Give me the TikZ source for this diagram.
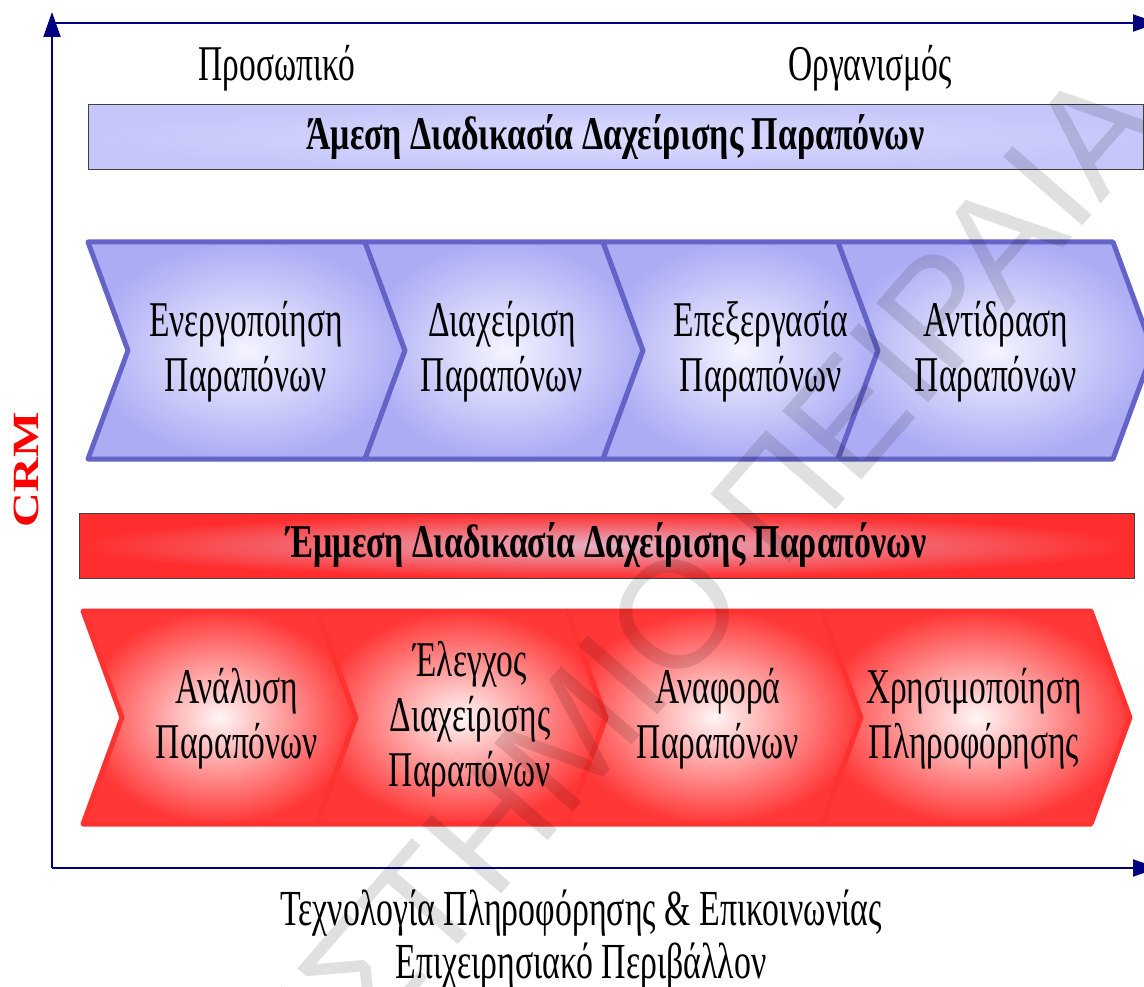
\documentclass[tikz,border=0pt]{standalone}
\usepackage{fontspec}
\setmainfont{Liberation Serif}[FakeStretch=0.67]
\newfontfamily\headfont{Liberation Serif}[FakeStretch=0.72]
\newfontfamily\crmfont{Liberation Serif}[FakeStretch=1.3]
\newfontfamily\wmfont{Liberation Sans}
\usetikzlibrary{arrows.meta}
\definecolor{navy}{RGB}{0,0,128}
\definecolor{chevblue}{RGB}{100,100,200}
\definecolor{fillblue}{RGB}{172,172,245}
\definecolor{paleblue}{RGB}{244,244,255}
\definecolor{barblue}{RGB}{198,198,250}
\definecolor{barblueinner}{RGB}{220,220,255}
\definecolor{chevred}{RGB}{255,50,50}
\definecolor{fillred}{RGB}{255,55,55}
\definecolor{palered}{RGB}{255,246,246}
\definecolor{barred}{RGB}{255,45,45}
\definecolor{barredinner}{RGB}{228,178,198}
\newcommand{\chevsize}{\fontsize{50}{55}\selectfont}
\tikzset{
    axis/.style = {draw=navy, line width=2pt, -{Triangle[length=25pt,width=17pt]}},
    headbar/.style = {rectangle, draw=black!75, line width=1pt, shade,
        minimum width=1055pt, minimum height=65pt, inner sep=0pt,
        font=\headfont\fontsize{47}{50}\selectfont\bfseries},
    bluebar/.style = {headbar, inner color=barblueinner, outer color=barblue},
    redbar/.style = {headbar, inner color=barredinner, outer color=barred},
    bluechev/.style = {draw=chevblue, line width=5pt, line join=round, shade,
        inner color=paleblue, outer color=fillblue},
    redchev/.style = {draw=chevred, line width=5pt, line join=round, shade,
        inner color=palered, outer color=fillred},
    chevtext/.style = {align=center, inner sep=0pt, font=\chevsize},
    label/.style = {inner sep=0pt, font=\fontsize{50}{55}\selectfont}}
\begin{document}
\begin{tikzpicture}[x=1pt,y=-1pt]
    \clip (0,0) rectangle (1144,987);
    % axes
    \coordinate (origin) at (52,868);
    \coordinate (ytip) at (52,12);
    \coordinate (topleft) at (52,23);
    \coordinate (toptip) at (1158,23);
    \coordinate (xtip) at (1158,868);
    \draw[axis] (origin) -- (ytip);
    \draw[axis] (topleft) -- (toptip);
    \draw[axis] (origin) -- (xtip);
    \node[label] (staff) at (277,68) {Προσωπικό};
    \node[label] (org) at (870,68) {Οργανισμός};
    \node[text=red, rotate=90, inner sep=0pt, font=\crmfont\fontsize{37}{40}\selectfont\bfseries]
        (crm) at (26,470) {CRM};
    % direct process
    \node[bluebar] (direct) at (615.5,137.5) {Άμεση Διαδικασία Δαχείρισης Παραπόνων};
    \foreach \xa/\xb in {88/365, 365/603, 603/838, 838/1113}
        \path[bluechev] (\xa,242) -- (\xb,242) -- (\xb+40,350.5) -- (\xb,459)
            -- (\xa,459) -- (\xa+40,350.5) -- cycle;
    \foreach \xt/\tx [count=\i] in {246/{Ενεργοποίηση\\Παραπόνων},
            502/{Διαχείριση\\Παραπόνων}, 761/{Επεξεργασία\\Παραπόνων},
            996/{Αντίδραση\\Παραπόνων}}
        \node[chevtext] (blue\i) at (\xt,352) {\tx};
    % indirect process
    \node[redbar] (indirect) at (606.5,545.5) {Έμμεση Διαδικασία Δαχείρισης Παραπόνων};
    \foreach \xa/\xb in {83/317, 317/567, 567/822, 822/1091}
        \path[redchev] (\xa,611) -- (\xb,611) -- (\xb+39,717.5) -- (\xb,824)
            -- (\xa,824) -- (\xa+39,717.5) -- cycle;
    \foreach \xt/\tx [count=\i] in {237/{Ανάλυση\\Παραπόνων},
            470/{Έλεγχος\\Διαχείρισης\\Παραπόνων}, 718/{Αναφορά\\Παραπόνων},
            974/{Χρησιμοποίηση\\Πληροφόρησης}}
        \node[chevtext] (red\i) at (\xt,719) {\tx};
    \node[label, align=center, font=\fontsize{50.5}{53}\selectfont] (env) at (581,940)
        {Τεχνολογία Πληροφόρησης \& Επικοινωνίας\\Επιχειρησιακό Περιβάλλον};
    % watermark
    \node[rotate=49, text=black, text opacity=0.12, inner sep=0pt,
        font=\wmfont\fontsize{152}{160}\selectfont] (mark) at (541,769)
        {ΠΑΝΕΠΙΣΤΗΜΙΟ ΠΕΙΡΑΙΑ};
\end{tikzpicture}
\end{document}
